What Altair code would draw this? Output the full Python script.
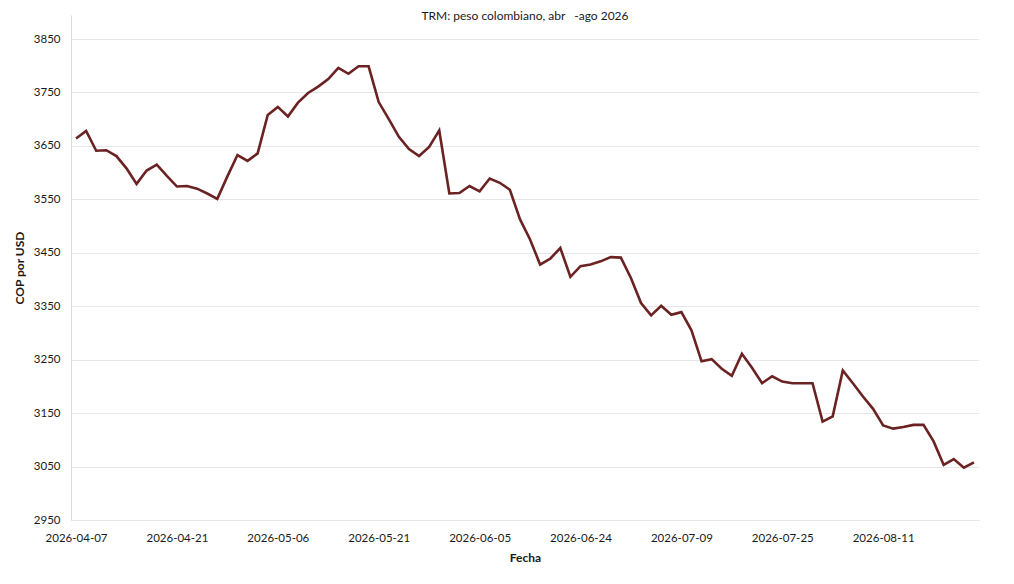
import altair as alt
import pandas as pd

fechas = [
    "2026-04-07", "2026-04-08", "2026-04-09", "2026-04-10", "2026-04-13", "2026-04-14",
    "2026-04-15", "2026-04-16", "2026-04-17", "2026-04-20", "2026-04-21",
    "2026-04-22", "2026-04-23", "2026-04-24", "2026-04-27", "2026-04-28", "2026-04-29",
    "2026-04-30", "2026-05-04", "2026-05-05", "2026-05-06",
    "2026-05-07", "2026-05-08", "2026-05-11", "2026-05-12", "2026-05-13", "2026-05-14",
    "2026-05-15", "2026-05-19", "2026-05-20", "2026-05-21",
    "2026-05-22", "2026-05-26", "2026-05-27", "2026-05-28", "2026-05-29", "2026-06-01",
    "2026-06-02", "2026-06-03", "2026-06-04", "2026-06-05",
    "2026-06-09", "2026-06-10", "2026-06-11", "2026-06-12", "2026-06-16", "2026-06-17",
    "2026-06-18", "2026-06-19", "2026-06-23", "2026-06-24",
    "2026-06-25", "2026-06-26", "2026-06-30", "2026-07-01", "2026-07-02", "2026-07-03",
    "2026-07-06", "2026-07-07", "2026-07-08", "2026-07-09",
    "2026-07-10", "2026-07-13", "2026-07-14", "2026-07-15", "2026-07-16", "2026-07-17",
    "2026-07-21", "2026-07-22", "2026-07-23", "2026-07-25",
    "2026-07-28", "2026-07-29", "2026-07-30", "2026-07-31", "2026-08-03", "2026-08-04",
    "2026-08-05", "2026-08-06", "2026-08-10", "2026-08-11",
    "2026-08-12", "2026-08-13", "2026-08-14", "2026-08-18", "2026-08-19", "2026-08-20",
    "2026-08-21", "2026-08-24", "2026-08-25",
]

trm = [
    3664, 3678, 3641, 3642, 3631, 3608, 3579, 3604, 3615, 3594,
    3574, 3575, 3570, 3561, 3551, 3593, 3633, 3622, 3636, 3708,
    3723, 3705, 3731, 3749, 3761, 3775, 3796, 3785, 3799, 3799,
    3732, 3700, 3667, 3644, 3631, 3648, 3679, 3561, 3562, 3575,
    3565, 3589, 3581, 3568, 3513, 3475, 3428, 3439, 3459, 3405,
    3425, 3428, 3434, 3442, 3441, 3403, 3356, 3333, 3351, 3334,
    3339, 3305, 3247, 3251, 3233, 3220, 3261, 3235, 3206, 3219,
    3209, 3206, 3206, 3206, 3134, 3144, 3230, 3206, 3181, 3158,
    3127, 3121, 3124, 3128, 3128, 3097, 3053, 3064, 3048, 3058,
]

etiquetas_x = [
    "2026-04-07", "2026-04-21", "2026-05-06", "2026-05-21", "2026-06-05",
    "2026-06-24", "2026-07-09", "2026-07-25", "2026-08-11",
]
ticks_y = [2950, 3050, 3150, 3250, 3350, 3450, 3550, 3650, 3750, 3850]

df = pd.DataFrame({"Fecha": fechas, "TRM": trm})

FONT = "Lato"
TXT = "#1a1a1a"
GRID = "#e6e6e6"

chart = (
    alt.Chart(df)
    .mark_line(color="#6b2222", strokeWidth=2.6, strokeJoin="miter")
    .encode(
        x=alt.X(
            "Fecha:O",
            sort=None,
            scale=alt.Scale(type="point", padding=0.5),
            axis=alt.Axis(
                title="Fecha",
                values=etiquetas_x,
                labelAngle=0,
                ticks=False,
                labelPadding=12,
                labelFontSize=11.5,
                labelColor=TXT,
                titleFontSize=12,
                titleFontWeight="bold",
                titleColor=TXT,
                titlePadding=9,
                domain=True,
                domainColor=GRID,
                grid=False,
            ),
        ),
        y=alt.Y(
            "TRM:Q",
            scale=alt.Scale(domain=[2950, 3895], nice=False, zero=False),
            axis=alt.Axis(
                title="COP por USD",
                values=ticks_y,
                format="d",
                ticks=False,
                labelPadding=11,
                labelFontSize=11.5,
                labelColor=TXT,
                titleFontSize=12,
                titleFontWeight="bold",
                titleColor=TXT,
                titlePadding=7,
                domainColor="#d9d9d9",
                gridColor=GRID,
                gridWidth=1,
            ),
        ),
    )
    .properties(
        width=908,
        height=505,
        title=alt.TitleParams(
            "TRM: peso colombiano, abr\u00a0\u00a0 -ago 2026",
            fontSize=12,
            fontWeight="normal",
            color=TXT,
            font=FONT,
            anchor="middle",
            offset=-8,
        ),
        padding={"left": 5, "top": 2, "right": 5, "bottom": 5},
    )
    .configure(font=FONT)
    .configure_view(stroke=None)
    .configure_axis(labelFont=FONT, titleFont=FONT)
)

chart.save("out.html", embed_options={"renderer": "svg", "actions": False})
